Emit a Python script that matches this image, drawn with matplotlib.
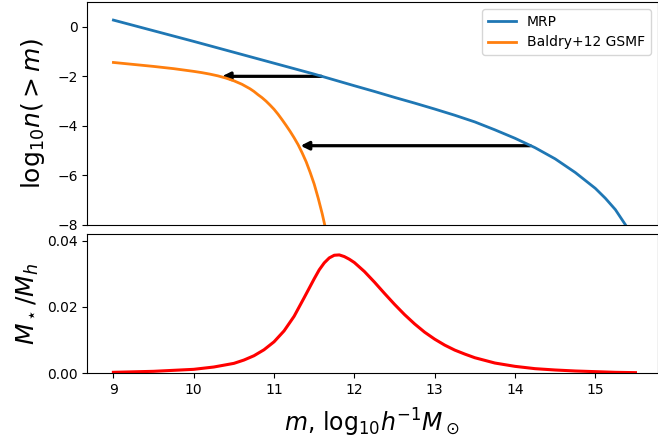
import numpy as np
import matplotlib.pyplot as plt

# halo mass grid for the cumulative functions, log10 h^-1 Msun
m_mrp = [9.0, 9.5, 10.0, 10.5, 11.0, 11.5, 12.0, 12.25, 12.5, 12.75, 13.0, 13.25,
         13.5, 13.75, 14.0, 14.25, 14.5, 14.75, 15.0, 15.125, 15.25, 15.375, 15.5]
logn_mrp = [0.27, -0.16, -0.59, -1.03, -1.47, -1.91, -2.38, -2.61, -2.85, -3.08,
            -3.32, -3.57, -3.84, -4.16, -4.50, -4.88, -5.33, -5.88, -6.52, -6.92,
            -7.38, -7.99, -8.7]

m_gsmf = [9.0, 9.25, 9.5, 9.75, 10.0, 10.1, 10.2, 10.3, 10.4, 10.5, 10.6, 10.7,
          10.75, 10.8, 10.85, 10.9, 10.95, 11.0, 11.05, 11.1, 11.15, 11.2, 11.25,
          11.3, 11.35, 11.4, 11.45, 11.5, 11.55, 11.6, 11.65, 11.7]
logn_gsmf = [-1.44, -1.52, -1.60, -1.69, -1.80, -1.85, -1.91, -1.98, -2.07, -2.18,
             -2.32, -2.50, -2.61, -2.74, -2.86, -3.00, -3.16, -3.33, -3.53, -3.75,
             -3.98, -4.22, -4.48, -4.76, -5.09, -5.45, -5.88, -6.35, -6.92, -7.55,
             -8.27, -9.05]

# abundance matching arrows: same n, halo mass -> stellar mass
arrow_logn = [-2.0, -4.8]
arrow_m_halo = [11.59, 14.19]
arrow_m_star = [10.35, 11.33]

m_ratio = [9.0, 9.5, 10.0, 10.25, 10.5, 10.625, 10.75, 10.875, 11.0, 11.125, 11.25,
           11.375, 11.5, 11.5625, 11.625, 11.6875, 11.75, 11.8125, 11.875, 11.9375,
           12.0, 12.125, 12.25, 12.375, 12.5, 12.625, 12.75, 12.875, 13.0, 13.125,
           13.25, 13.375, 13.5, 13.75, 14.0, 14.25, 14.5, 14.75, 15.0, 15.25, 15.5]
ratio = [0.0003, 0.0006, 0.0012, 0.0019, 0.0030, 0.0040, 0.0053, 0.0071, 0.0095,
         0.0128, 0.0172, 0.0228, 0.0285, 0.0312, 0.0333, 0.0348, 0.0356, 0.0357,
         0.0352, 0.0344, 0.0334, 0.0307, 0.0275, 0.0241, 0.0208, 0.0177, 0.0149,
         0.0124, 0.0103, 0.0085, 0.0070, 0.0058, 0.0047, 0.0031, 0.0021, 0.0014,
         0.0010, 0.0007, 0.0005, 0.0003, 0.0002]

fig = plt.figure(figsize=(6.58, 4.45), dpi=100)
ax1 = fig.add_axes([0.1327, 0.4944, 0.8666, 0.5011])
ax2 = fig.add_axes([0.1327, 0.1611, 0.8666, 0.3130])

ax1.plot(m_mrp, logn_mrp, color='#1f77b4', lw=2, label='MRP')
ax1.plot(m_gsmf, logn_gsmf, color='#ff7f0e', lw=2, label='Baldry+12 GSMF')
for y, m0, m1 in zip(arrow_logn, arrow_m_halo, arrow_m_star):
    ax1.annotate('', xy=(m1, y), xytext=(m0, y),
                 arrowprops=dict(arrowstyle='-|>', color='k', lw=2.3,
                                 mutation_scale=12, shrinkA=0, shrinkB=0),
                 zorder=1.5)
ax1.set_xlim(8.675, 15.775)
ax1.set_ylim(-8, 1)
ax1.set_xticks([])
ax1.set_yticks([0, -2, -4, -6, -8])
ax1.set_ylabel(r'$\mathrm{log}_{10}n(>m)$', fontsize=18, labelpad=7)
ax1.legend(loc='upper right')

ax2.plot(m_ratio, ratio, color='red', lw=2.2)
ax2.set_xlim(8.675, 15.775)
ax2.set_ylim(0, 0.042)
ax2.set_yticks([0.0, 0.02, 0.04])
ax2.set_ylabel(r'$M_\star/M_h$', fontsize=18)
ax2.set_xlabel(r'$m$, $\mathrm{log}_{10}h^{-1}M_\odot$', fontsize=17, labelpad=7)

plt.savefig('out.png', dpi=100)
